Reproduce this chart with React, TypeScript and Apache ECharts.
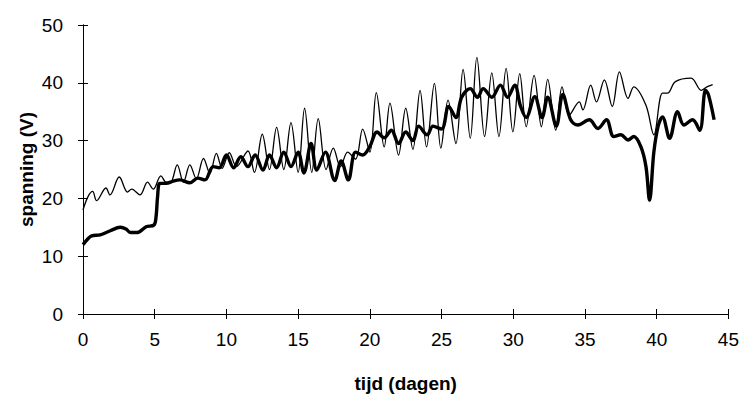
import React, { useEffect, useRef } from "react";
import * as echarts from "echarts";

const xTicks = [0, 5, 10, 15, 20, 25, 30, 35, 40, 45];
const yTicks = [0, 10, 20, 30, 40, 50];

// thin line (upper curve)
const thinDays = [
  0, 0.35, 0.67, 0.95, 1.6, 1.88, 2.53, 3.1, 3.4, 3.97, 4.5, 4.9, 5.43, 5.8, 6.1,
  6.57, 7.0, 7.45, 7.9, 8.4, 8.85, 9.3, 9.7, 10.2, 10.7, 11.5, 11.95, 12.5, 13.0,
  13.5, 14.0, 14.5, 15.0, 15.45, 15.95, 16.4, 16.95, 17.45, 17.95, 18.45, 19.0,
  19.5, 20.0, 20.45, 21.0, 21.4, 22.0, 22.5, 23.0, 23.5, 23.95, 24.5, 24.95,
  25.45, 26.0, 26.5, 27.0, 27.46, 28.0, 28.5, 29.0, 29.5, 29.97, 30.45, 30.9,
  31.45, 31.96, 32.4, 32.96, 33.4, 33.9, 34.6, 34.85, 35.4, 35.8, 36.35, 36.9,
  37.4, 38.0, 38.4, 39.25, 39.8, 40.4, 40.75, 41.3, 42.4, 43.1, 43.5, 43.9,
];
const thinVolts = [
  18.0, 20.3, 21.2, 19.6, 21.8, 20.6, 23.7, 21.1, 21.6, 20.6, 22.8, 21.6, 23.9, 22.8, 22.8,
  25.8, 22.8, 25.8, 23.4, 26.9, 24.3, 27.8, 25.2, 27.9, 25.5, 28.2, 24.5, 31.1, 25.0,
  32.3, 25.0, 33.1, 24.5, 35.6, 24.5, 33.8, 25.0, 28.7, 25.5, 28.0, 26.8,
  32.0, 28.0, 38.3, 28.9, 36.5, 27.5, 35.6, 28.5, 38.7, 28.9, 39.9, 28.7,
  37.0, 29.5, 42.3, 30.4, 44.4, 30.7, 41.7, 30.7, 42.5, 31.5, 41.6, 32.4,
  41.3, 32.4, 40.6, 31.8, 39.3, 34.4, 36.7, 35.3, 39.6, 36.7, 40.5, 35.9,
  41.9, 37.3, 39.3, 36.1, 31.0, 38.2, 38.2, 40.2, 40.8, 38.7, 39.3, 39.7,
];

// thick line (lower curve)
const thickDays = [
  0, 0.3, 0.6, 1.2, 1.9, 2.6, 3.0, 3.3, 3.8, 4.4, 4.95, 5.1, 5.2, 5.36, 5.8,
  6.3, 6.75, 7.45, 8.0, 8.5, 9.07, 9.5, 10.0, 10.5, 11.0, 11.5, 12.0, 12.55,
  13.0, 13.5, 14.0, 14.5, 15.0, 15.4, 15.9, 16.3, 16.9, 17.55, 18.0, 18.5,
  19.0, 19.5, 20.0, 20.5, 21.0, 21.5, 22.0, 22.5, 23.0, 23.4, 24.0, 24.4,
  25.0, 25.5, 26.0, 26.4, 27.0, 27.5, 27.9, 28.5, 29.1, 29.6, 30.1, 30.5,
  30.9, 31.5, 32.0, 32.4, 33.0, 33.45, 34.0, 34.5, 35.3, 35.9, 36.5, 37.0,
  37.5, 38.0, 38.4, 38.9, 39.25, 39.5, 39.8, 40.1, 40.4, 40.9, 41.45, 41.9,
  42.5, 43.0, 43.4, 43.6, 44.0,
];
const thickVolts = [
  12.0, 12.9, 13.5, 13.7, 14.4, 15.0, 14.7, 14.1, 14.1, 15.1, 15.4, 17.0, 20.3, 22.6, 22.6,
  23.0, 23.2, 22.7, 23.5, 23.2, 25.5, 25.3, 27.5, 25.3, 27.2, 25.5, 27.5, 24.9,
  27.5, 25.3, 28.0, 25.5, 28.0, 24.4, 29.5, 24.9, 28.0, 23.1, 26.5, 23.2,
  28.0, 27.5, 29.0, 31.5, 30.5, 31.8, 29.5, 31.5, 30.0, 32.5, 31.0, 32.5,
  32.0, 35.9, 34.0, 37.5, 39.0, 37.5, 39.0, 37.5, 39.6, 37.5, 39.6, 36.0,
  34.0, 37.6, 34.0, 37.5, 32.5, 38.0, 33.6, 32.7, 33.6, 32.1, 33.6, 30.7,
  31.0, 30.1, 30.7, 28.9, 25.5, 19.7, 28.0, 32.5, 34.1, 30.4, 35.0, 32.7,
  33.6, 31.8, 38.7, 38.0, 33.6,
];

const FONT = "'Liberation Sans', Arial, sans-serif";

export default function App() {
  const ref = useRef<HTMLDivElement>(null);
  useEffect(() => {
    if (!ref.current) return;
    const chart = echarts.init(ref.current, null, { renderer: "svg" });
    const thinData = thinDays.map((d, i) => [d, thinVolts[i]]);
    const thickData = thickDays.map((d, i) => [d, thickVolts[i]]);
    const axisLine = { show: true, lineStyle: { color: "#000", width: 1 } };
    const baseX = {
      type: "value",
      min: xTicks[0],
      max: xTicks[xTicks.length - 1],
      interval: 5,
      position: "bottom",
      splitLine: { show: false },
      axisLine,
    };
    const baseY = {
      type: "value",
      min: yTicks[0],
      max: yTicks[yTicks.length - 1],
      interval: 10,
      position: "left",
      splitLine: { show: false },
      axisLine,
    };
    chart.setOption({
      animation: false,
      backgroundColor: "#fff",
      grid: { left: 83, right: 13, top: 25, bottom: 85, containLabel: false },
      xAxis: [
        {
          ...baseX,
          name: "tijd (dagen)",
          nameLocation: "middle",
          nameGap: 60,
          nameTextStyle: { fontFamily: FONT, fontSize: 19, fontWeight: "bold", color: "#000" },
          axisTick: { show: true, inside: false, length: 5, lineStyle: { color: "#000" } },
          axisLabel: { fontFamily: FONT, fontSize: 19, color: "#000", margin: 16 },
        },
        {
          ...baseX,
          axisTick: { show: true, inside: true, length: 5, lineStyle: { color: "#000" } },
          axisLabel: { show: false },
        },
      ],
      yAxis: [
        {
          ...baseY,
          name: "spanning (V)",
          nameLocation: "middle",
          nameGap: 47,
          nameMoveOverlap: false,
          nameTextStyle: { fontFamily: FONT, fontSize: 19, fontWeight: "bold", color: "#000" },
          axisTick: { show: true, inside: false, length: 5, lineStyle: { color: "#000" } },
          axisLabel: { fontFamily: FONT, fontSize: 19, color: "#000", margin: 20 },
        },
        {
          ...baseY,
          axisTick: { show: true, inside: true, length: 5, lineStyle: { color: "#000" } },
          axisLabel: { show: false },
        },
      ],
      series: [
        {
          type: "line",
          data: thinData,
          xAxisIndex: 0,
          yAxisIndex: 0,
          showSymbol: false,
          smooth: 0.35,
          lineStyle: { color: "#000", width: 1.3 },
        },
        {
          type: "line",
          data: thickData,
          xAxisIndex: 0,
          yAxisIndex: 0,
          showSymbol: false,
          smooth: 0.35,
          lineStyle: { color: "#000", width: 3.4 },
        },
      ],
    });
    return () => chart.dispose();
  }, []);
  return <div ref={ref} style={{ width: 742, height: 399, position: "absolute", left: 0, top: 0 }} />;
}
